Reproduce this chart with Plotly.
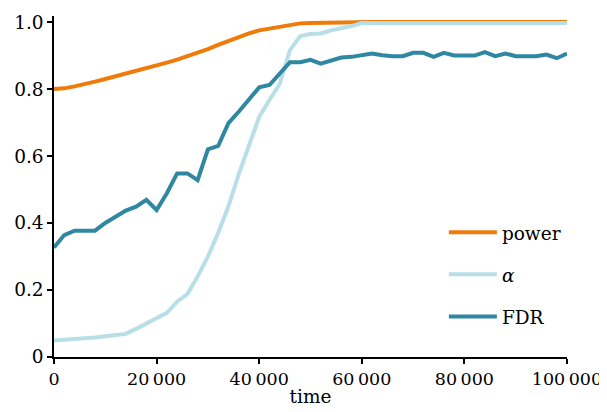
import plotly.graph_objects as go

time = list(range(0, 100001, 2000))

power = [0.800, 0.802, 0.808, 0.814, 0.822, 0.830, 0.838, 0.845, 0.852, 0.860,
         0.869, 0.879, 0.888, 0.898, 0.908, 0.919, 0.932, 0.944, 0.956, 0.966,
         0.975, 0.981, 0.987, 0.993, 0.996, 0.997, 0.998, 0.998, 0.999, 0.999,
         1.0, 1.0, 1.0, 1.0, 1.0, 1.0, 1.0, 1.0, 1.0, 1.0,
         1.0, 1.0, 1.0, 1.0, 1.0, 1.0, 1.0, 1.0, 1.0, 1.0, 1.0]

alpha = [0.049, 0.051, 0.053, 0.055, 0.058, 0.062, 0.066, 0.069, 0.084, 0.100,
         0.115, 0.132, 0.165, 0.188, 0.240, 0.300, 0.370, 0.450, 0.545, 0.635,
         0.717, 0.767, 0.815, 0.916, 0.958, 0.964, 0.966, 0.975, 0.981, 0.988,
         0.997, 0.997, 0.997, 0.997, 0.997, 0.997, 0.997, 0.997, 0.997, 0.997,
         0.997, 0.997, 0.997, 0.997, 0.997, 0.997, 0.997, 0.997, 0.997, 0.997, 0.997]

fdr = [0.327, 0.364, 0.377, 0.377, 0.377, 0.400, 0.420, 0.437, 0.449, 0.469,
       0.439, 0.489, 0.548, 0.548, 0.528, 0.620, 0.630, 0.698, 0.732, 0.769,
       0.805, 0.812, 0.845, 0.880, 0.880, 0.887, 0.876, 0.886, 0.894, 0.896,
       0.901, 0.906, 0.901, 0.898, 0.898, 0.908, 0.908, 0.896, 0.908, 0.900,
       0.900, 0.900, 0.910, 0.898, 0.906, 0.898, 0.898, 0.898, 0.903, 0.892, 0.906]

x_tickvals = [0, 20000, 40000, 60000, 80000, 100000]
x_ticktext = ["0", "20\u2009000", "40\u2009000", "60\u2009000", "80\u2009000", "100\u2009000"]
y_tickvals = [0, 0.2, 0.4, 0.6, 0.8, 1.0]
y_ticktext = ["0", "0.2", "0.4", "0.6", "0.8", "1.0"]

FONT = "DejaVu Serif"
FS = 18.5
FSX = 17.5

fig = go.Figure()
fig.add_trace(go.Scatter(x=time, y=power, mode="lines", name="power",
                         legendgroup="a",
                         line=dict(color="#EF7B0B", width=4)))
fig.add_trace(go.Scatter(x=time, y=alpha, mode="lines", name="<i>\u03b1</i>",
                         legendgroup="b",
                         line=dict(color="#B8DFE8", width=4)))
fig.add_trace(go.Scatter(x=time, y=fdr, mode="lines", name="FDR",
                         legendgroup="c",
                         line=dict(color="#2F87A1", width=4)))

# page body has an 8px default margin, so the figure is sized to fit the window
fig.update_layout(
    width=599, height=404,
    margin=dict(l=46, r=40, t=8, b=55),
    paper_bgcolor="white", plot_bgcolor="white",
    font=dict(family=FONT, size=FS, color="black"),
    showlegend=True,
    legend=dict(x=0.76, y=0.42, xanchor="left", yanchor="top",
                bgcolor="rgba(0,0,0,0)", tracegroupgap=15, itemwidth=48,
                font=dict(family=FONT, size=FS)),
    xaxis=dict(range=[0, 100000], tickvals=x_tickvals, ticktext=x_ticktext,
               showgrid=False, zeroline=False, showline=True, linecolor="black",
               linewidth=1.5, ticks="outside", ticklen=5, tickcolor="black",
               tickwidth=1.5, automargin=False,
               tickfont=dict(family=FONT, size=FSX),
               title=dict(text="time", standoff=2, font=dict(family=FONT, size=FS))),
    yaxis=dict(range=[0, 1.018], tickvals=y_tickvals, ticktext=y_ticktext,
               showgrid=False, zeroline=False, showline=True, linecolor="black",
               linewidth=1.5, ticks="outside", ticklen=5, tickcolor="black",
               tickwidth=1.5, automargin=False,
               tickfont=dict(family=FONT, size=FS)),
)

fig.write_html("out.html")
